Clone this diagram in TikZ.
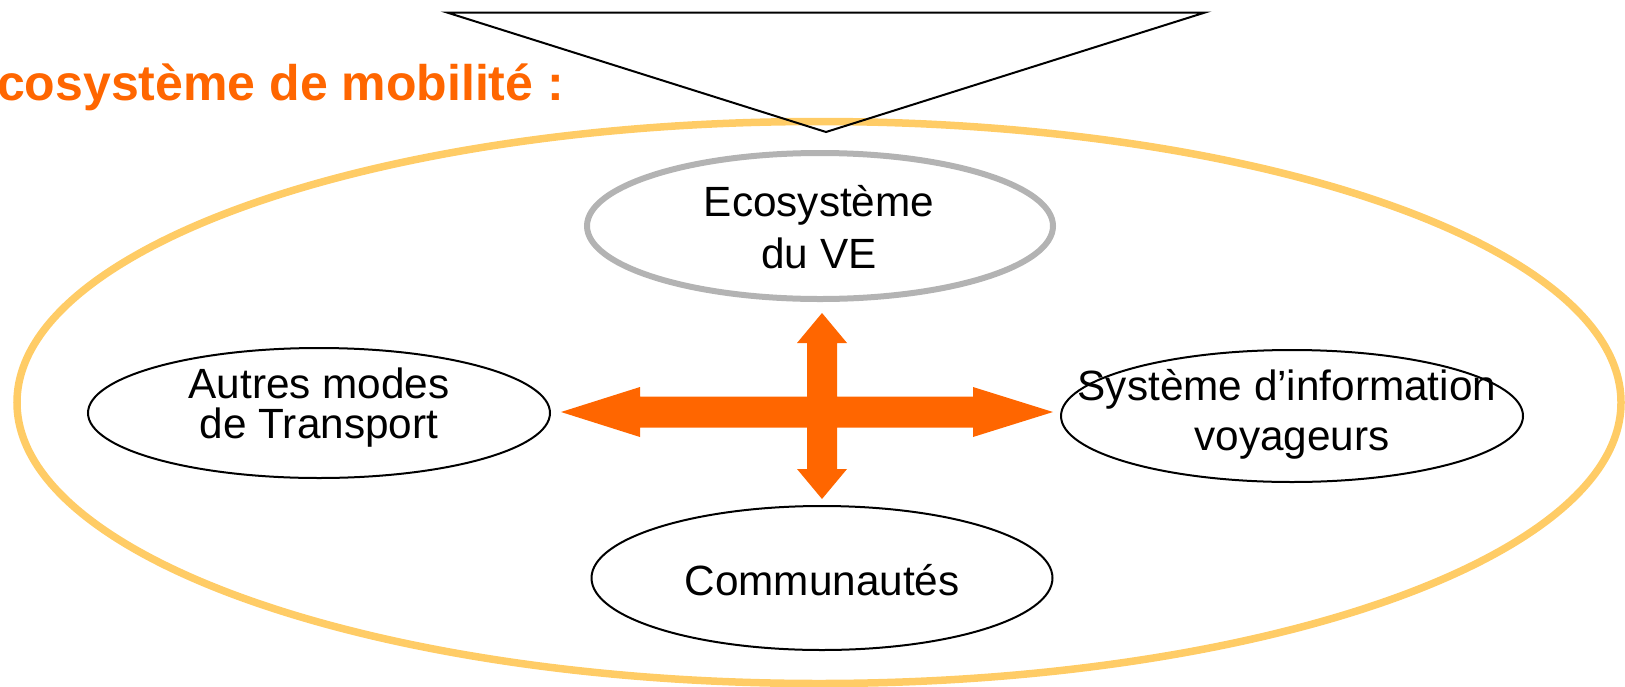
\documentclass[tikz,border=0pt]{standalone}
\usepackage{fontspec}
\setmainfont{Liberation Sans}
\usetikzlibrary{shapes.geometric}
\definecolor{orng}{HTML}{FF6600}
\definecolor{yell}{HTML}{FFCC66}
\definecolor{grey}{HTML}{B3B3B3}
\begin{document}
\begin{tikzpicture}[x=1pt,y=-1pt,
  ellbox/.style={ellipse,draw=black,line width=2pt,inner sep=0pt,outer sep=0pt},
  body/.style={font=\fontsize{42.3}{42}\selectfont,inner sep=0pt,anchor=base},
  ]
\useasboundingbox (0,0) rectangle (1625,686);
% big yellow ellipse
\node[ellipse,draw=yell,line width=7.5pt,inner sep=0pt,minimum width=1604pt,minimum height=562pt] (eco) at (819,402.5) {};
% triangle
\coordinate (tl) at (447,12.5);
\coordinate (tr) at (1205,12.5);
\coordinate (ap) at (826,132);
\draw[line width=2pt,line join=miter] (tl) -- (tr) -- (ap) -- cycle;
% inner ellipses
\node[ellbox,draw=grey,line width=6pt,minimum width=466pt,minimum height=146pt] (ve) at (820,226) {};
\node[ellbox,minimum width=462pt,minimum height=130pt] (autres) at (319,413) {};
\node[ellbox,minimum width=462pt,minimum height=132pt] (sys) at (1292,416) {};
\node[ellbox,minimum width=461pt,minimum height=144pt] (comm) at (822,578) {};
% cross arrow
\fill[orng] (561,412) -- (640,387) -- (640,396.5) -- (807,396.5) -- (807,343) -- (797,343)
  -- (822,313) -- (847,343) -- (837,343) -- (837,396.5) -- (973,396.5) -- (973,387)
  -- (1053,412) -- (973,437) -- (973,427.5) -- (837,427.5) -- (837,469) -- (847,469)
  -- (822,499) -- (797,469) -- (807,469) -- (807,427.5) -- (640,427.5) -- (640,437) -- cycle;
% texts
\node[body] (ve1) at (819,216) {Ecosystème};
\node[body] (ve2) at (819,268) {du VE};
\node[body] (au1) at (319,398) {Autres modes};
\node[body] (au2) at (319,438) {de Transport};
\node[body] (sy1) at (1287,400) {Système d’information};
\node[body] (sy2) at (1292,450) {voyageurs};
\node[body] (co1) at (822,595) {Communautés};
\node[font=\fontsize{50}{50}\selectfont\bfseries,text=orng,inner sep=0pt,anchor=base west] (title) at (-3,100) {cosystème de mobilité :};
\end{tikzpicture}
\end{document}
